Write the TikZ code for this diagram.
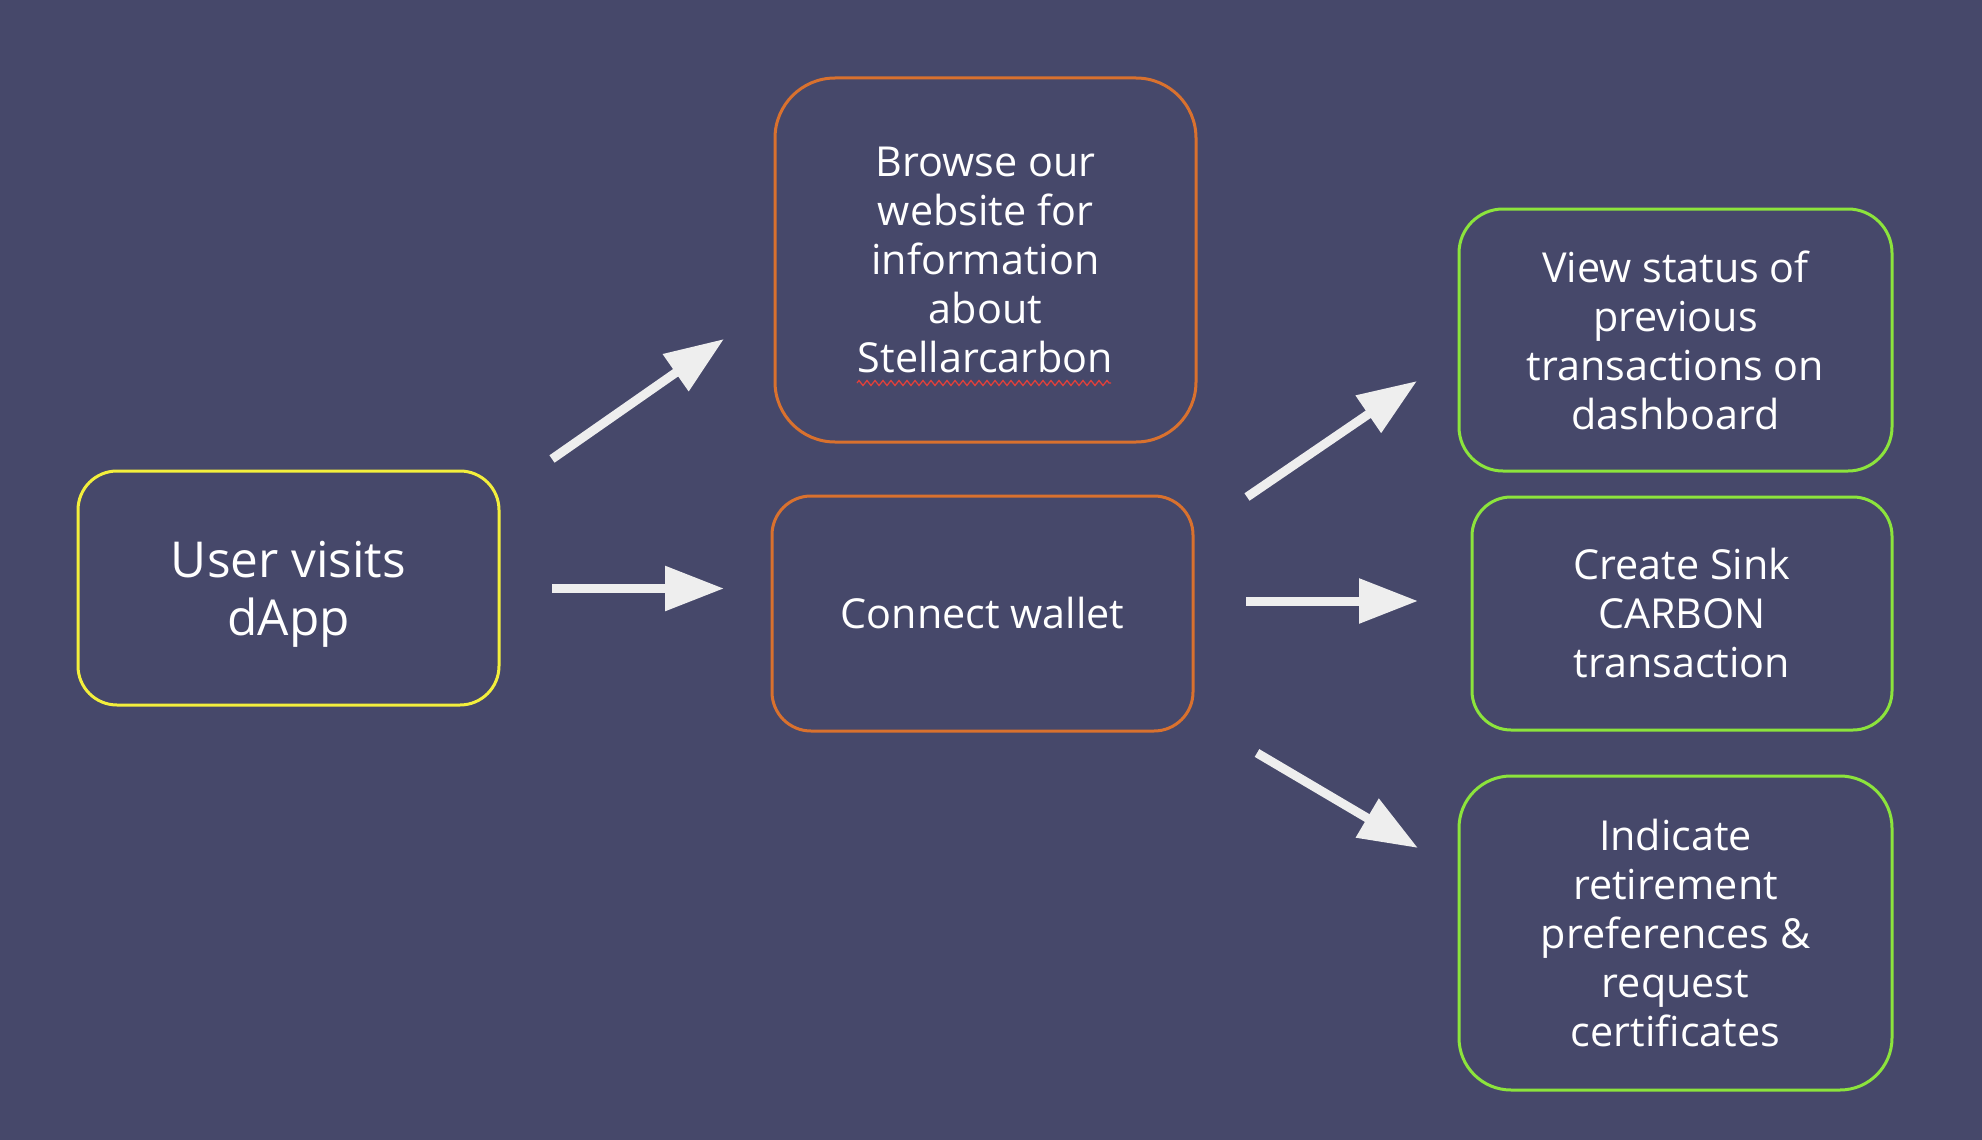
\documentclass[tikz,border=0pt]{standalone}
\usepackage{fontspec}
\setmainfont{Open Sans}
\usetikzlibrary{arrows.meta,decorations.pathmorphing}
\definecolor{bgc}{HTML}{46486A}
\definecolor{yellowc}{HTML}{F3EF3C}
\definecolor{orangec}{HTML}{D9712E}
\definecolor{greenc}{HTML}{8CE43C}
\definecolor{arrowc}{HTML}{EEEEEE}
\definecolor{squigc}{HTML}{E2403A}
\begin{document}
\begin{tikzpicture}[x=1pt,y=-1pt,
  box/.style={draw, line width=3pt, inner sep=0pt, align=center, text=white,
    font=\fontsize{41.3}{49}\selectfont},
  flow/.style={draw=arrowc, line width=9pt, -{Triangle[length=59pt,width=43pt]}}]
\fill[bgc] (0,0) rectangle (1982,1140);
\useasboundingbox (0,0) rectangle (1982,1140);

\node[box, draw=yellowc, minimum width=421pt, minimum height=234pt, rounded corners=39pt,
  font=\fontsize{49.5}{58}\selectfont, text depth=0pt] (user) at (288.5,588) {User visits\\dApp};
\node[box, draw=orangec, minimum width=421pt, minimum height=364pt, rounded corners=60pt]
  (browse) at (985.5,260) {Browse our\\website for\\information\\about\\Stellarcarbon};
\node[box, draw=orangec, minimum width=421pt, minimum height=235pt, rounded corners=39pt]
  (connect) at (982.5,613.5) {Connect wallet};
\node[box, draw=greenc, minimum width=433pt, minimum height=262pt, rounded corners=44pt]
  (view) at (1675.5,340) {View status of\\previous\\transactions on\\dashboard};
\node[box, draw=greenc, minimum width=420pt, minimum height=233pt, rounded corners=39pt]
  (create) at (1682,613.5) {Create Sink\\CARBON\\transaction};
\node[box, draw=greenc, minimum width=433pt, minimum height=314pt, rounded corners=52pt]
  (indicate) at (1675.5,933) {Indicate\\retirement\\preferences \&\\request\\certificates};

% spell-check squiggle
\coordinate (sqa) at (857,383);
\coordinate (sqb) at (1111,383);
\draw[squigc, line width=1.3pt, decorate, decoration={zigzag, segment length=8pt, amplitude=2.5pt}] (sqa) -- (sqb);

% arrow end points
\coordinate (a1s) at (552,459);  \coordinate (a1e) at (724,339);
\coordinate (a2s) at (552,588.5);  \coordinate (a2e) at (724,588.5);
\coordinate (a3s) at (1247,497); \coordinate (a3e) at (1417,381);
\coordinate (a4s) at (1246,601); \coordinate (a4e) at (1418,601);
\coordinate (a5s) at (1257,753); \coordinate (a5e) at (1418,848);

\draw[flow] (a1s) -- (a1e);
\draw[flow] (a2s) -- (a2e);
\draw[flow] (a3s) -- (a3e);
\draw[flow] (a4s) -- (a4e);
\draw[flow] (a5s) -- (a5e);
\end{tikzpicture}
\end{document}
